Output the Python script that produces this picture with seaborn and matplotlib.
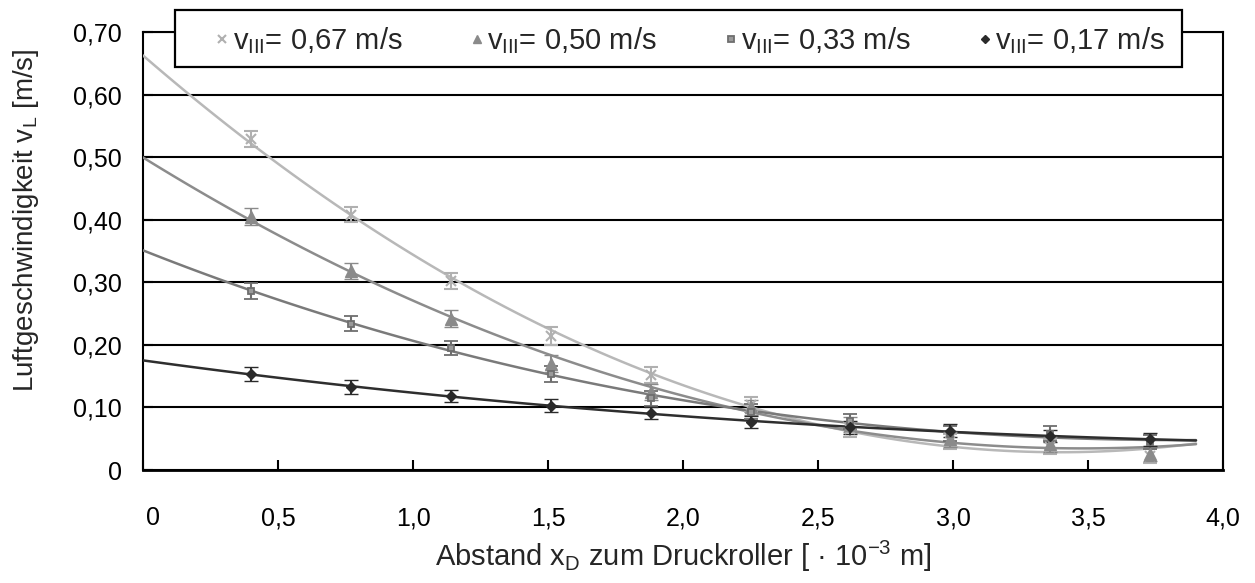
import numpy as np
import pandas as pd
import matplotlib
matplotlib.use("Agg")
import matplotlib.pyplot as plt
import matplotlib.transforms as mtransforms
from matplotlib.lines import Line2D
from matplotlib.patches import Rectangle
import seaborn as sns

# ---------------- data ----------------
x_pos = [0.40, 0.77, 1.14, 1.51, 1.88, 2.25, 2.62, 2.99, 3.36, 3.73]

v067 = [0.529, 0.408, 0.302, 0.214, 0.152, 0.104, 0.065, 0.046, 0.037, 0.022]
v050 = [0.405, 0.318, 0.242, 0.170, 0.125, 0.100, 0.072, 0.049, 0.041, 0.026]
v033 = [0.286, 0.234, 0.195, 0.154, 0.115, 0.093, 0.078, 0.058, 0.058, 0.045]
v017 = [0.153, 0.133, 0.118, 0.103, 0.091, 0.077, 0.068, 0.063, 0.054, 0.049]

e067 = [0.013, 0.012, 0.013, 0.014, 0.013, 0.012, 0.012, 0.012, 0.012, 0.011]
e050 = [0.013, 0.013, 0.013, 0.014, 0.013, 0.012, 0.012, 0.012, 0.012, 0.011]
e033 = [0.013, 0.012, 0.011, 0.013, 0.012, 0.012, 0.012, 0.012, 0.012, 0.011]
e017 = [0.011, 0.011, 0.010, 0.010, 0.010, 0.010, 0.010, 0.010, 0.010, 0.010]

series_labels = ["0,67 m/s", "0,50 m/s", "0,33 m/s", "0,17 m/s"]

x_ticks = [0, 0.5, 1.0, 1.5, 2.0, 2.5, 3.0, 3.5, 4.0]
x_ticklabels = ["0", "0,5", "1,0", "1,5", "2,0", "2,5", "3,0", "3,5", "4,0"]
y_ticks = [0, 0.1, 0.2, 0.3, 0.4, 0.5, 0.6, 0.7]
y_ticklabels = ["0", "0,10", "0,20", "0,30", "0,40", "0,50", "0,60", "0,70"]

# ---------------- style ----------------
sns.set_style("white")
plt.rcParams["font.family"] = ["Liberation Sans", "DejaVu Sans"]
plt.rcParams["mathtext.fontset"] = "custom"
plt.rcParams["mathtext.rm"] = "Liberation Sans"
plt.rcParams["mathtext.it"] = "Liberation Sans"
plt.rcParams["mathtext.cal"] = "Liberation Serif"

W, H = 1255, 583
fig = plt.figure(figsize=(W / 100, H / 100), dpi=100)
ax = fig.add_axes([143 / W, 1 - 470 / H, (1223 - 143) / W, (470 - 32) / H])

styles = [
    dict(vals=v067, err=e067, color="#b0b0b0", lcolor="#b8b8b8", marker="x",
         ms=7, mew=1.5, mfc="#b0b0b0", order=2),
    dict(vals=v050, err=e050, color="#8a8a8a", lcolor="#8c8c8c", marker="^",
         ms=8, mew=1.0, mfc="#8a8a8a", order=2),
    dict(vals=v033, err=e033, color="#6e6e6e", lcolor="#7a7a7a", marker="s",
         ms=5, mew=1.3, mfc="#9a9a9a", order=3),
    dict(vals=v017, err=e017, color="#2a2a2a", lcolor="#2e2e2e", marker="D",
         ms=5.5, mew=1.0, mfc="#2a2a2a", order=3),
]

# trend lines (polynomial fits) from x=0 to 3.9
ax.set_xlim(0, 3.9)
for st in styles:
    df = pd.DataFrame({"x": x_pos, "y": st["vals"]})
    sns.regplot(data=df, x="x", y="y", order=st["order"], ci=None,
                scatter=False, truncate=False, ax=ax,
                line_kws=dict(color=st["lcolor"], lw=1.8, zorder=3))

# points with error bars
handles = []
for st in styles:
    ax.errorbar(x_pos, st["vals"], yerr=st["err"], fmt=st["marker"],
                color=st["color"], mfc=st["mfc"], mec=st["color"],
                ms=st["ms"], mew=st["mew"],
                ecolor=st["color"], elinewidth=1.5, capsize=5, capthick=1.8,
                zorder=4)
    handles.append(Line2D([], [], ls="none", marker=st["marker"],
                          color=st["color"], mfc=st["mfc"], mec=st["color"],
                          ms=st["ms"] * 0.75, mew=st["mew"]))

ax.set_xlim(0, 4.0)
ax.set_ylim(0, 0.70)
ax.set_xlabel("")
ax.set_ylabel("")

ax.set_xticks(x_ticks)
ax.set_xticklabels(x_ticklabels)
ax.set_yticks(y_ticks)
ax.set_yticklabels(y_ticklabels)

ax.yaxis.grid(True, color="black", lw=1.5, zorder=1)
ax.xaxis.grid(False)
ax.set_axisbelow(True)

for sp in ax.spines.values():
    sp.set_visible(True)
    sp.set_color("black")
    sp.set_linewidth(1.5)
ax.spines["bottom"].set_linewidth(2.0)

ax.tick_params(axis="x", direction="in", length=7, width=1.5, pad=26,
               labelsize=18, colors="black", top=False, bottom=True)
ax.tick_params(axis="y", direction="in", length=7, width=1.5, pad=15,
               labelsize=18, colors="black", left=True, right=False)

# Excel-like shift of the "0" x label
lbl0 = ax.get_xticklabels()[0]
lbl0.set_transform(lbl0.get_transform() +
                   mtransforms.ScaledTranslation(10 / 100, 0, fig.dpi_scale_trans))

fig.text(683 / W, 1 - 556 / H,
         r"Abstand x$_{\mathregular{D}}$ zum Druckroller [ · 10$^{\mathregular{-3}}$ m]",
         ha="center", va="center", fontsize=21)
fig.text(26 / W, 1 - 220 / H,
         r"Luftgeschwindigkeit v$_{\mathregular{L}}$ [m/s]",
         ha="center", va="center", rotation=90, fontsize=20)

# legend box
box = Rectangle((175 / W, 1 - 67 / H), (1182 - 175) / W, (67 - 10) / H,
                transform=fig.transFigure, facecolor="white", edgecolor="black",
                lw=1.6, zorder=20)
fig.add_artist(box)

leg_labels = [r"v$_{\mathregular{III}}$= " + s for s in series_labels]
leg = fig.legend(handles, leg_labels, ncol=4, loc="center",
                 bbox_to_anchor=(690 / W, 1 - 41 / H),
                 bbox_transform=fig.transFigure,
                 frameon=False, fontsize=21, handlelength=0.5,
                 handletextpad=0.1, columnspacing=2.3, borderpad=0.2)
leg.set_zorder(21)

fig.savefig("out.png", dpi=100, facecolor="white")
